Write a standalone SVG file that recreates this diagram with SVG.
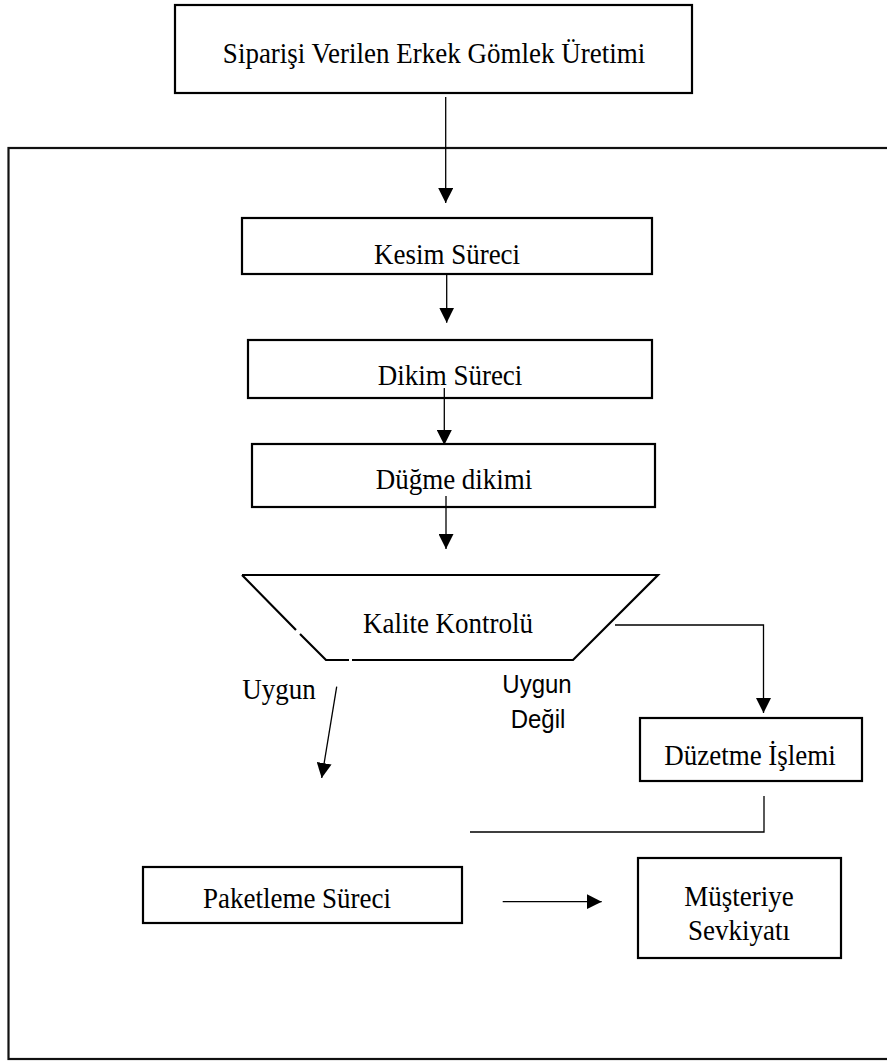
<svg xmlns="http://www.w3.org/2000/svg" width="887" height="1062" viewBox="0 0 887 1062">
<style>
.box{fill:#fff;stroke:#000;stroke-width:2.2}
.frame{fill:none;stroke:#111;stroke-width:2.2}
.lbl{font-family:"Liberation Serif","Times New Roman",serif;font-size:27px;fill:#000;text-anchor:middle}
.sans{font-family:"Liberation Sans",Arial,sans-serif;font-size:24px;fill:#000;text-anchor:middle}
.con{fill:none;stroke:#000;stroke-width:1.3}
</style>
<defs>
<marker id="ah" markerUnits="userSpaceOnUse" markerWidth="16" markerHeight="15" refX="15" refY="7.5" orient="auto" viewBox="0 0 16 15">
<path d="M0,0 L15,7.5 L0,15 z" fill="#000"/>
</marker>
</defs>
<rect class="frame" x="8.5" y="148" width="900" height="911"/>
<g id="n-top"><rect class="box" x="175" y="5" width="517" height="88"/><text class="lbl" transform="translate(434,63) scale(1,1.12)" font-size="25.2">Siparişi Verilen Erkek Gömlek Üretimi</text></g>
<g id="n-kesim"><rect class="box" x="242" y="218" width="410" height="56"/><text class="lbl" transform="translate(447,264) scale(1,1.12)">Kesim Süreci</text></g>
<g id="n-dikim"><rect class="box" x="248" y="340" width="404" height="58"/><text class="lbl" transform="translate(450,385) scale(1,1.12)">Dikim Süreci</text></g>
<g id="n-dugme"><rect class="box" x="252" y="444" width="403" height="63"/><text class="lbl" transform="translate(454,489) scale(1,1.12)">Düğme dikimi</text></g>
<g id="n-kalite"><path d="M242,575 L658,575 L573,660 L352,660 M349,660 L326,660 L300,634 M296,630 L242,575" fill="#fff" stroke="#000" stroke-width="2.2"/><text class="lbl" transform="translate(448,633) scale(1,1.12)">Kalite Kontrolü</text></g>
<g id="n-duzetme"><rect class="box" x="640" y="718" width="222" height="63"/><text class="lbl" transform="translate(750,765) scale(1,1.12)">Düzetme İşlemi</text></g>
<g id="n-paket"><rect class="box" x="143" y="867" width="319" height="56"/><text class="lbl" transform="translate(297,908) scale(1,1.12)" font-size="24.5">Paketleme Süreci</text></g>
<g id="n-musteri"><rect class="box" x="638" y="858" width="203" height="100"/><text class="lbl" transform="translate(739,906) scale(1,1.12)">Müşteriye</text><text class="lbl" transform="translate(739,940) scale(1,1.12)">Sevkiyatı</text></g>
<g id="labels">
<text class="lbl" transform="translate(279,699) scale(1,1.12)">Uygun</text>
<text class="sans" transform="translate(537,693) scale(1,1.08)">Uygun</text>
<text class="sans" transform="translate(538,728) scale(1,1.08)">Değil</text>
</g>
<g id="connectors">
<path class="con" d="M445.7,97 V203" marker-end="url(#ah)"/>
<path class="con" d="M446.7,274 V322.7" marker-end="url(#ah)"/>
<path class="con" d="M444.3,388 V445" marker-end="url(#ah)"/>
<path class="con" d="M446,496 V549" marker-end="url(#ah)"/>
<path class="con" d="M336.7,686.7 L321.7,778" marker-end="url(#ah)"/>
<path class="con" d="M615,625 H763.5 V713" marker-end="url(#ah)"/>
<path class="con" d="M764,796 V832 H470"/>
<path class="con" d="M502.7,901.7 H601.7" marker-end="url(#ah)"/>
</g>
</svg>
